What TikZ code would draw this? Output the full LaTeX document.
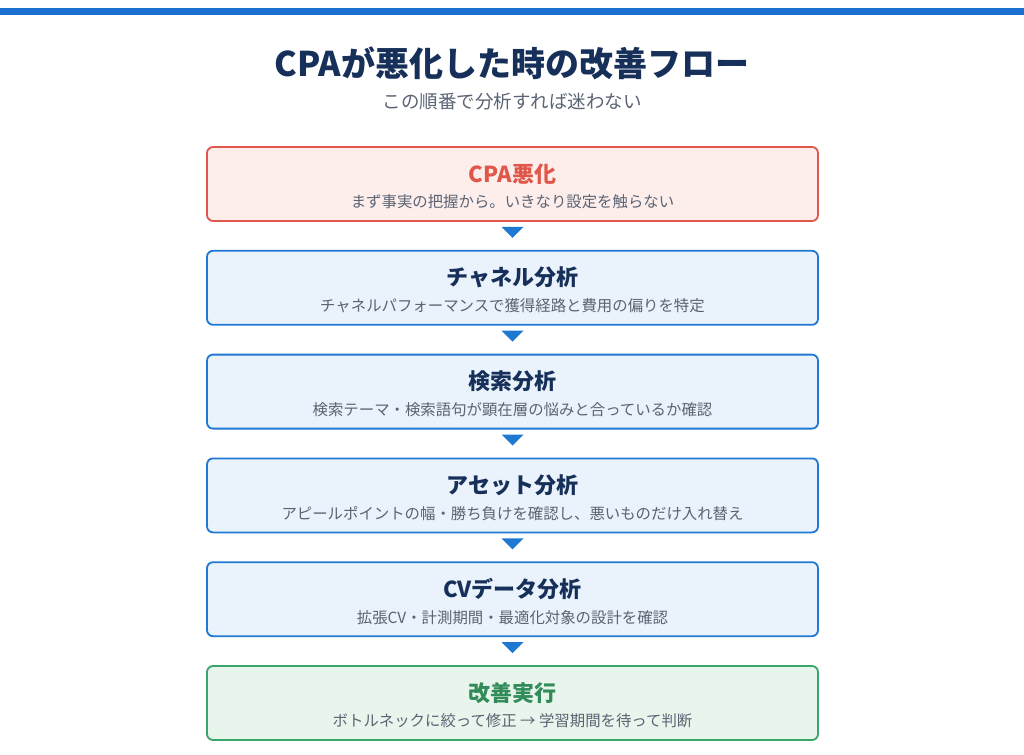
\documentclass[tikz,border=0pt]{standalone}
\usepackage{fontspec}
\setmainfont{Noto Sans CJK JP}
\usetikzlibrary{positioning, calc}
\definecolor{barblue}{HTML}{1A6FD0}
\definecolor{navy}{HTML}{16305A}
\definecolor{subgrey}{HTML}{5A6372}
\definecolor{redline}{HTML}{E0574A}
\definecolor{redfill}{HTML}{FDEEEC}
\definecolor{blueline}{HTML}{1F78D1}
\definecolor{bluefill}{HTML}{EAF3FC}
\definecolor{greenline}{HTML}{3AA56A}
\definecolor{greenfill}{HTML}{E8F5EC}
\tikzset{
  flowbox/.style={draw=blueline, fill=bluefill, line width=1.8pt, rounded corners=6pt,
    minimum width=611pt, minimum height=74pt, inner sep=0pt},
  head/.style={font=\fontsize{22}{26}\selectfont\bfseries, text=navy},
  sub/.style={font=\fontsize{15.4}{18}\selectfont, text=subgrey},
  tip/.style={fill=blueline}
}
\begin{document}
\begin{tikzpicture}[x=1pt,y=-1pt]
    \useasboundingbox (0,0) rectangle (1024,754);
    \fill[barblue] (0,8) rectangle (1024,15);

    \node[font=\fontsize{34}{40}\selectfont\bfseries, text=navy] (title) at (512,63) {CPAが悪化した時の改善フロー};
    \node[font=\fontsize{18.5}{22}\selectfont, text=subgrey] (subtitle) at (512,102) {この順番で分析すれば迷わない};

    % steps
    \node[flowbox, draw=redline, fill=redfill] (s1) at (512.5,184) {};
    \node[flowbox, below=28pt of s1] (s2) {};
    \node[flowbox, below=28pt of s2] (s3) {};
    \node[flowbox, below=28pt of s3] (s4) {};
    \node[flowbox, below=28pt of s4] (s5) {};
    \node[flowbox, draw=greenline, fill=greenfill, below=28pt of s5] (s6) {};

    \node[head, text=redline] at ($(s1)+(0,-10)$) {CPA悪化};
    \node[sub] at ($(s1)+(0,18)$) {まず事実の把握から。いきなり設定を触らない};
    \node[head] at ($(s2)+(0,-10)$) {チャネル分析};
    \node[sub] at ($(s2)+(0,18)$) {チャネルパフォーマンスで獲得経路と費用の偏りを特定};
    \node[head] at ($(s3)+(0,-10)$) {検索分析};
    \node[sub] at ($(s3)+(0,18)$) {検索テーマ・検索語句が顕在層の悩みと合っているか確認};
    \node[head] at ($(s4)+(0,-10)$) {アセット分析};
    \node[sub] at ($(s4)+(0,18)$) {アピールポイントの幅・勝ち負けを確認し、悪いものだけ入れ替え};
    \node[head] at ($(s5)+(0,-10)$) {CVデータ分析};
    \node[sub] at ($(s5)+(0,18)$) {拡張CV・計測期間・最適化対象の設計を確認};
    \node[head, text=greenline!85!black] at ($(s6)+(0,-10)$) {改善実行};
    \node[sub] at ($(s6)+(0,18)$) {ボトルネックに絞って修正 → 学習期間を待って判断};

    % arrows
    \foreach \a in {1,...,5} {
        \fill[tip] ($(s\a.south)+(-11,5)$) -- ++(22,0) -- ++(-11,11) -- cycle;
    }
\end{tikzpicture}
\end{document}
